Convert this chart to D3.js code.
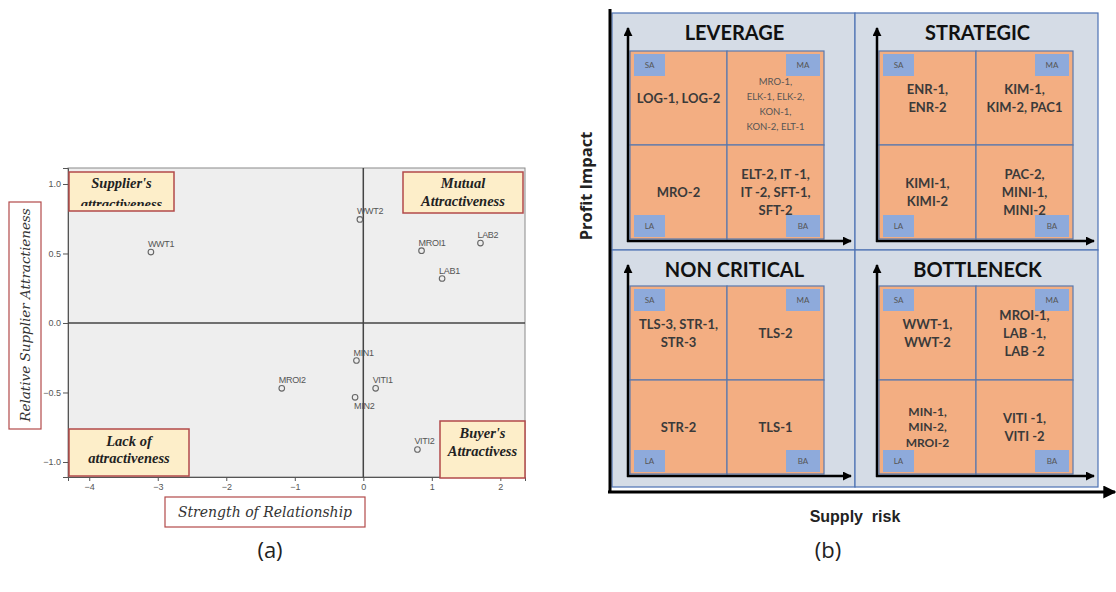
<!DOCTYPE html>
<html>
<head>
<meta charset="utf-8">
<script src="https://cdn.jsdelivr.net/npm/d3@7"></script>
<style>
  body { margin: 0; background: #fff; }
  svg { display: block; }
</style>
</head>
<body>
<div id="chartDiv"></div>
<script>

// ---- panel (a) data ----
var pointNames = ["WWT1", "WWT2", "MROI1", "LAB2", "LAB1", "MIN1", "MROI2", "VITI1", "MIN2", "VITI2"];
var strength   = [-3.1, -0.05, 0.85, 1.71, 1.15, -0.10, -1.19, 0.18, -0.12, 0.79];
var attract    = [0.51, 0.745, 0.52, 0.575, 0.32, -0.27, -0.47, -0.47, -0.535, -0.91];
var xTicks = [-4, -3, -2, -1, 0, 1, 2];
var yTicks = [1.0, 0.5, 0.0, -0.5, -1.0];
var quadrantNames = [["Supplier's", "attractiveness"], ["Mutual", "Attractiveness"],
                     ["Lack of", "attractiveness"], ["Buyer's", "Attractivess"]];

// ---- panel (b) data ----
var matrixTitles = ["LEVERAGE", "STRATEGIC", "NON CRITICAL", "BOTTLENECK"];
var cellTags = ["SA", "MA", "LA", "BA"];
var leverageItems  = [["LOG-1, LOG-2"], ["MRO-1,", "ELK-1, ELK-2,", "KON-1,", "KON-2,  ELT-1"],
                      ["MRO-2"], ["ELT-2, IT -1,", "IT -2, SFT-1,", "SFT-2"]];
var strategicItems = [["ENR-1,", "ENR-2"], ["KIM-1,", "KIM-2, PAC1"],
                      ["KIMI-1,", "KIMI-2"], ["PAC-2,", "MINI-1,", "MINI-2"]];
var nonCriticalItems = [["TLS-3, STR-1,", "STR-3"], ["TLS-2"], ["STR-2"], ["TLS-1"]];
var bottleneckItems  = [["WWT-1,", "WWT-2"], ["MROI-1,", "LAB -1,", "LAB -2"],
                        ["MIN-1,", "MIN-2,", "MROI-2"], ["VITI -1,", "VITI -2"]];
var matrixItems = [leverageItems, strategicItems, nonCriticalItems, bottleneckItems];

var svg = d3.select('#chartDiv').append('svg')
  .attr('width', 1116).attr('height', 592);

var defs = svg.append('defs');

function addArrow(id, size) {
  defs.append('marker')
    .attr('id', id)
    .attr('viewBox', '0 0 10 10')
    .attr('refX', 9).attr('refY', 5)
    .attr('markerUnits', 'userSpaceOnUse')
    .attr('markerWidth', size).attr('markerHeight', size)
    .attr('orient', 'auto')
    .append('path').attr('d', 'M0,0 L10,5 L0,10 z').attr('fill', '#000');
}
addArrow('arrowSmall', 9);
addArrow('arrowBig', 13);

drawScatter();
drawMatrix();

// scatter plot (a)
function drawScatter() {
  var x = d3.scaleLinear().domain([-4.31, 2.36]).range([68, 525]);
  var y = d3.scaleLinear().domain([-1.108, 1.115]).range([477, 168]);

  var g = svg.append('g').attr('id', 'panelA');

  g.append('rect')
    .attr('x', x.range()[0]).attr('y', y.range()[1])
    .attr('width', x.range()[1] - x.range()[0])
    .attr('height', y.range()[0] - y.range()[1])
    .attr('fill', '#eeeeee').attr('stroke', '#8a8a8a').attr('stroke-width', 1);

  var xAxis = g.append('g')
    .attr('transform', 'translate(0,' + y.range()[0] + ')')
    .call(d3.axisBottom(x).tickValues(xTicks).tickSize(4).tickPadding(3).tickFormat(d3.format('d')));
  var yAxis = g.append('g')
    .attr('transform', 'translate(' + x.range()[0] + ',0)')
    .call(d3.axisLeft(y).tickValues(yTicks).tickSize(5).tickPadding(2).tickFormat(d3.format('.1f')));

  [xAxis, yAxis].forEach(function(a) {
    a.select('.domain').attr('stroke', '#555');
    a.selectAll('line').attr('stroke', '#555');
    a.selectAll('text').attr('fill', '#555').attr('font-family', 'Liberation Sans, Arial')
      .attr('font-size', 9);
  });

  // reference lines through zero
  g.append('line')
    .attr('x1', x(0)).attr('x2', x(0)).attr('y1', y.range()[1]).attr('y2', y.range()[0])
    .attr('stroke', '#444').attr('stroke-width', 1.5);
  g.append('line')
    .attr('x1', x.range()[0]).attr('x2', x.range()[1]).attr('y1', y(0)).attr('y2', y(0))
    .attr('stroke', '#444').attr('stroke-width', 1.5);

  var pts = g.selectAll('.pt')
    .data(pointNames)
    .enter().append('g').attr('class', 'pt');

  pts.append('circle')
    .attr('cx', function(d, i) { return x(strength[i]); })
    .attr('cy', function(d, i) { return y(attract[i]); })
    .attr('r', 2.8)
    .attr('fill', 'none').attr('stroke', '#666').attr('stroke-width', 1.1);

  pts.append('text')
    .attr('x', function(d, i) { return x(strength[i]) + (d == 'MIN2' ? -1 : -3); })
    .attr('y', function(d, i) { return y(attract[i]) + (d == 'MIN2' ? 12 : -5); })
    .attr('font-family', 'Liberation Sans, Arial').attr('font-size', 9)
    .attr('letter-spacing', -0.3)
    .attr('fill', '#555')
    .text(function(d) { return d; });

  // quadrant label boxes
  var boxes = [[69, 172, 174, 211], [403, 172, 523, 213], [69, 429, 189, 476], [440, 421, 525, 478]];
  var firstBase = [188, 188, 446, 438];
  var lineGap = [18, 18, 17, 18];

  boxes.forEach(function(b, i) {
    var clipId = 'qclip' + i;
    defs.append('clipPath').attr('id', clipId)
      .append('rect').attr('x', b[0]).attr('y', b[1])
      .attr('width', b[2] - b[0]).attr('height', (i == 0 ? 206 : b[3]) - b[1]);

    g.append('rect')
      .attr('x', b[0]).attr('y', b[1])
      .attr('width', b[2] - b[0]).attr('height', b[3] - b[1])
      .attr('fill', '#fdeec9').attr('stroke', '#b24a4a').attr('stroke-width', 1.5);

    g.append('text')
      .attr('clip-path', 'url(#' + clipId + ')')
      .attr('text-anchor', 'middle')
      .attr('font-family', 'Liberation Serif, Times New Roman')
      .attr('font-style', 'italic').attr('font-weight', 'bold')
      .attr('font-size', 14.5).attr('fill', '#222')
      .selectAll('tspan')
      .data(quadrantNames[i])
      .enter().append('tspan')
      .attr('x', (b[0] + b[2]) / 2)
      .attr('y', function(d, j) { return firstBase[i] + j * lineGap[i] + (i == 0 && j == 1 ? 3 : 0); })
      .text(function(d) { return d; });
  });

  // axis titles in boxes
  g.append('rect').attr('x', 165).attr('y', 497).attr('width', 200).attr('height', 30)
    .attr('fill', '#fff').attr('stroke', '#b24a4a').attr('stroke-width', 1.2);
  g.append('text')
    .attr('x', 265).attr('y', 517).attr('text-anchor', 'middle')
    .attr('font-family', 'DejaVu Serif, Liberation Serif').attr('font-style', 'italic')
    .attr('font-size', 14).attr('fill', '#333')
    .text('Strength of Relationship');

  g.append('rect').attr('x', 9).attr('y', 202).attr('width', 32).attr('height', 227)
    .attr('fill', '#fff').attr('stroke', '#b24a4a').attr('stroke-width', 1.2);
  g.append('text')
    .attr('transform', 'translate(30,315) rotate(-90)')
    .attr('text-anchor', 'middle')
    .attr('font-family', 'DejaVu Serif, Liberation Serif').attr('font-style', 'italic')
    .attr('font-size', 13.5).attr('fill', '#333')
    .text('Relative Supplier Attractieness');

  svg.append('text')
    .attr('x', 270).attr('y', 558).attr('text-anchor', 'middle')
    .attr('font-family', 'Open Sans, Liberation Sans').attr('font-size', 22).attr('fill', '#222')
    .text('(a)');
}

// purchasing matrix (b)
function drawMatrix() {
  var qx = d3.scaleBand().domain([0, 1]).range([612, 1098]);
  var qy = d3.scaleBand().domain([0, 1]).range([13, 487]);
  var g = svg.append('g').attr('id', 'panelB');

  matrixTitles.forEach(function(title, q) {
    var col = q % 2, row = Math.floor(q / 2);
    var left = qx(col), top = qy(row);
    var w = qx.bandwidth(), h = qy.bandwidth();

    g.append('rect')
      .attr('x', left).attr('y', top).attr('width', w).attr('height', h)
      .attr('fill', '#d5dce6').attr('stroke', '#4e72b4').attr('stroke-width', 1.2);

    var axisX = left + (col == 0 ? 16 : 22);
    var gridX0 = axisX + 2, gridY0 = top + (row == 0 ? 38 : 36);
    var cx = d3.scaleBand().domain([0, 1]).range([gridX0, gridX0 + 194]);
    var cy = d3.scaleBand().domain([0, 1]).range([gridY0, gridY0 + 188]);
    var axisY = gridY0 + 190;

    // cells
    var items = matrixItems[q];
    cellTags.forEach(function(tag, c) {
      var ccol = c % 2, crow = Math.floor(c / 2);
      var x0 = cx(ccol), y0 = cy(crow), cw = cx.bandwidth(), ch = cy.bandwidth();

      g.append('rect')
        .attr('x', x0).attr('y', y0).attr('width', cw).attr('height', ch)
        .attr('fill', '#f3ae82').attr('stroke', '#5a78ad').attr('stroke-width', 1.2);

      var tw = ccol == 0 ? 31 : 34, th = 22;
      var tx = ccol == 0 ? x0 + 4 : x0 + cw - tw - 4;
      var ty = crow == 0 ? y0 + 3 : y0 + ch - th - 2;
      g.append('rect')
        .attr('x', tx).attr('y', ty).attr('width', tw).attr('height', th)
        .attr('fill', '#8eaadb');
      g.append('text')
        .attr('x', tx + tw / 2).attr('y', ty + th / 2 + 3)
        .attr('text-anchor', 'middle')
        .attr('font-family', 'Lato, Open Sans').attr('font-size', 8).attr('fill', '#555')
        .text(tag);

      var lines = items[c];
      var small = (q == 0 && c == 1);
      var fs = small ? 9.5 : (q == 3 && c == 2 ? 12 : 13);
      var lh = small ? 15 : (q == 3 && c == 2 ? 15.5 : 18);
      var mid = y0 + ch / 2 + (small ? 6 : 0);
      g.append('text')
        .attr('text-anchor', 'middle')
        .attr('font-family', 'Lato, Open Sans')
        .attr('font-weight', small ? 'normal' : 'bold')
        .attr('font-size', fs).attr('fill', small ? '#555' : '#3a3a3a')
        .selectAll('tspan')
        .data(lines)
        .enter().append('tspan')
        .attr('x', x0 + cw / 2)
        .attr('y', function(d, j) { return mid + (j - (lines.length - 1) / 2) * lh + fs * 0.35; })
        .text(function(d) { return d; });
    });

    // little axes of each matrix
    g.append('line')
      .attr('x1', axisX).attr('y1', axisY + 1).attr('x2', axisX).attr('y2', top + 15)
      .attr('stroke', '#000').attr('stroke-width', 2.5).attr('marker-end', 'url(#arrowSmall)');
    g.append('line')
      .attr('x1', axisX - 1).attr('y1', axisY).attr('x2', left + w - 4).attr('y2', axisY)
      .attr('stroke', '#000').attr('stroke-width', 2.5).attr('marker-end', 'url(#arrowSmall)');

    g.append('text')
      .attr('x', left + w / 2 + 1).attr('y', top + 27)
      .attr('text-anchor', 'middle')
      .attr('font-family', 'Lato, Open Sans').attr('font-weight', 'bold')
      .attr('font-size', 20).attr('fill', '#111')
      .text(title);
  });

  // outer axes
  g.append('line')
    .attr('x1', 610).attr('y1', 9).attr('x2', 610).attr('y2', 493)
    .attr('stroke', '#000').attr('stroke-width', 3);
  g.append('line')
    .attr('x1', 608).attr('y1', 492).attr('x2', 1115).attr('y2', 492)
    .attr('stroke', '#000').attr('stroke-width', 3).attr('marker-end', 'url(#arrowBig)');

  g.append('text')
    .attr('transform', 'translate(592,186) rotate(-90)')
    .attr('text-anchor', 'middle')
    .attr('font-family', 'Open Sans, Liberation Sans').attr('font-weight', 'bold')
    .attr('font-size', 16.5).attr('fill', '#222')
    .text('Profit Impact');

  g.append('text')
    .attr('x', 855).attr('y', 522).attr('text-anchor', 'middle')
    .attr('font-family', 'Liberation Sans, Arial').attr('font-weight', 'bold')
    .attr('font-size', 16).attr('fill', '#222')
    .attr('xml:space', 'preserve')
    .text('Supply  risk');

  svg.append('text')
    .attr('x', 828).attr('y', 558).attr('text-anchor', 'middle')
    .attr('font-family', 'Open Sans, Liberation Sans').attr('font-size', 22).attr('fill', '#222')
    .text('(b)');
}
</script>
</body>
</html>
